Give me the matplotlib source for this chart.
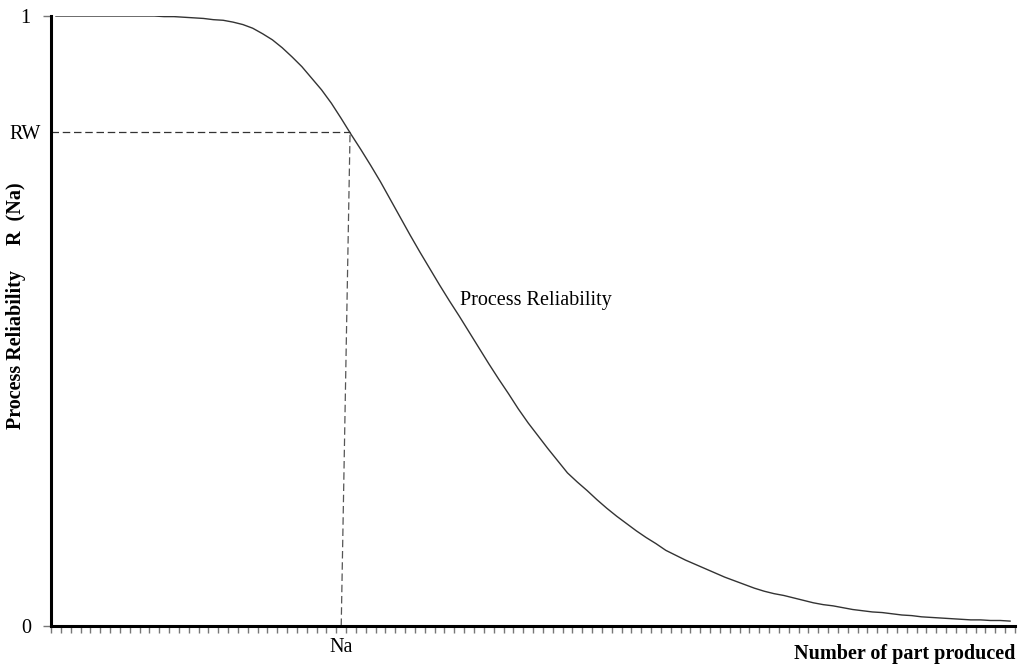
import matplotlib.pyplot as plt
import numpy as np

plt.rcParams['font.family'] = ['Liberation Serif', 'DejaVu Serif']

# reliability R(Na) per produced part (category centres)
reliability = [
    1.000, 1.000, 1.000, 1.000, 1.000, 1.000, 1.000, 1.000, 1.000, 1.000,
    1.000, 0.999, 0.999, 0.998, 0.997, 0.996, 0.994, 0.993, 0.990, 0.986,
    0.980, 0.971, 0.961, 0.948, 0.933, 0.917, 0.898, 0.879, 0.857, 0.832,
    0.806, 0.781, 0.755, 0.728, 0.699, 0.670, 0.641, 0.613, 0.586, 0.559,
    0.533, 0.508, 0.482, 0.456, 0.430, 0.405, 0.381, 0.356, 0.333, 0.312,
    0.291, 0.271, 0.251, 0.236, 0.222, 0.207, 0.193, 0.180, 0.168, 0.156,
    0.145, 0.135, 0.124, 0.116, 0.108, 0.101, 0.094, 0.087, 0.080, 0.074,
    0.068, 0.062, 0.057, 0.053, 0.050, 0.046, 0.042, 0.038, 0.035, 0.033,
    0.030, 0.027, 0.025, 0.023, 0.022, 0.020, 0.018, 0.017, 0.015, 0.014,
    0.013, 0.012, 0.011, 0.010, 0.010, 0.009, 0.009, 0.008,
]
parts = np.arange(len(reliability)) + 0.5

rw_value = 0.81
na_bottom = 29.5
na_top = 30.4

y_ticks = [0, rw_value, 1]
y_tick_labels = ['0', 'RW', '1']

fig = plt.figure(figsize=(10.29, 6.67), dpi=100, facecolor='white')
ax = fig.add_axes([0.0496, 0.0615, 0.9368, 0.9145])

ax.plot(parts, reliability, color='#333333', lw=1.0)

# RW / Na guide lines
dash = (0, (6, 3))
ax.plot([0, na_top], [rw_value, rw_value], color='#333333', lw=0.9, linestyle=dash)
ax.plot([na_bottom, na_top], [0, rw_value], color='#555555', lw=0.9, linestyle=dash)

ax.text(41.6, 0.533, 'Process Reliability', fontsize=14.5, va='center', ha='left')

ax.set_xlim(0, len(reliability))
ax.set_ylim(0, 1)

ax.set_xticks([na_bottom])
ax.set_xticklabels(['Na'], fontsize=14.5)
ax.set_xticks(np.arange(0, len(reliability) + 1), minor=True)
ax.tick_params(axis='x', which='major', length=0, pad=9)
ax.tick_params(axis='x', which='minor', length=5, width=1, color='#777777', direction='out')

ax.set_yticks(y_ticks)
ax.set_yticklabels(y_tick_labels, fontsize=14.5)
ax.tick_params(axis='y', length=6, width=1, color='#777777', pad=8.6)
rw_tick = ax.yaxis.get_major_ticks()[1]
rw_tick.tick1line.set_visible(False)
rw_tick.set_pad(1.4)

for side in ['top', 'right']:
    ax.spines[side].set_visible(False)
for side in ['left', 'bottom']:
    ax.spines[side].set_linewidth(2.2)
    ax.spines[side].set_color('black')

ax.set_ylabel('Process Reliability     R  (Na)', fontsize=14.5, fontweight='bold')
ax.yaxis.set_label_coords(-0.026, 0.525)
fig.text(0.9864, 0.005, 'Number of part produced', fontsize=14.5, fontweight='bold',
         ha='right', va='bottom')

fig.savefig('out.png', dpi=100)
